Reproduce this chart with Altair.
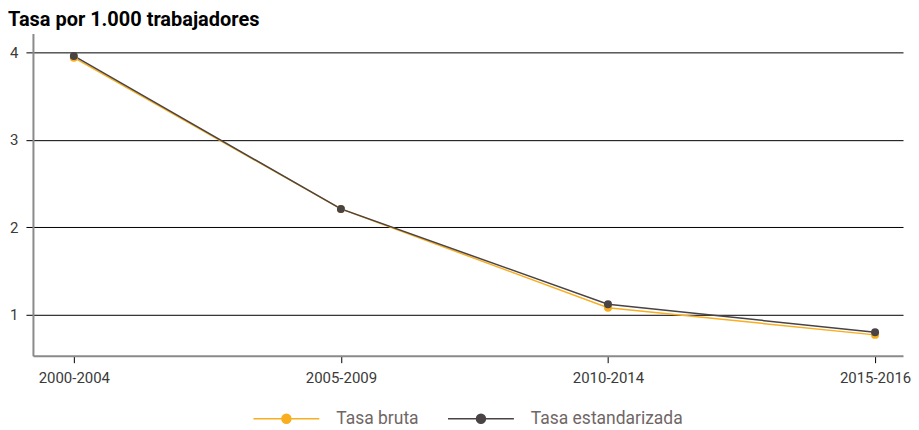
import altair as alt
import pandas as pd

periods = ["2000-2004", "2005-2009", "2010-2014", "2015-2016"]
series_names = ["Tasa bruta", "Tasa estandarizada"]
tasa_bruta = [3.94, 2.21, 1.08, 0.77]
tasa_estandarizada = [3.96, 2.21, 1.12, 0.80]
colors = ["#f8ae1e", "#4a4344"]

rows = []
for name, vals in zip(series_names, [tasa_bruta, tasa_estandarizada]):
    for p, v in zip(periods, vals):
        rows.append({"periodo": p, "serie": name, "valor": v})
df = pd.DataFrame(rows)

FONT = "Roboto"
r = 0.136
sym_path = f"M-1,0L1,0M-{r},0A{r},{r},0,1,0,{r},0A{r},{r},0,1,0,-{r},0Z"

legend = alt.Legend(
    title=None, orient="none", legendX=220, legendY=352, direction="horizontal",
    symbolType=sym_path, symbolSize=4356, symbolOpacity=1, symbolStrokeWidth=1.5,
    labelFont=FONT, labelFontSize=17.5, labelOffset=16, labelColor="#706666",
    columnPadding=26, padding=0,
)

x = alt.X("periodo:N", sort=periods,
          scale=alt.Scale(type="point", padding=0.1289, align=0.594),
          axis=alt.Axis(title=None, labelAngle=0, domainColor="#8a8a8a", domainWidth=2,
                        tickColor="black", tickSize=7, tickWidth=1, labelPadding=8,
                        labelFont=FONT, labelFontSize=15, labelColor="#3a3a3a", grid=False))
y = alt.Y("valor:Q", scale=alt.Scale(domain=[0.532, 4.217], nice=False, zero=False),
          axis=alt.Axis(title=None, values=[1, 2, 3, 4], format="d", domainColor="#8a8a8a",
                        domainWidth=2, tickColor="black", tickSize=7, tickWidth=1,
                        gridColor="black", gridWidth=1, grid=True, labelPadding=8,
                        labelFont=FONT, labelFontSize=15, labelColor="#3a3a3a",
                        minExtent=25, maxExtent=25))

lines = alt.Chart(df).mark_line(strokeWidth=1.5).encode(
    x=x, y=y,
    color=alt.Color("serie:N", scale=alt.Scale(domain=series_names, range=colors),
                    legend=legend),
    order=alt.Order("serie:N"),
)
points = alt.Chart(df).mark_point(filled=True, size=64, opacity=1).encode(
    x=x, y=y,
    fill=alt.Fill("serie:N", scale=alt.Scale(domain=series_names, range=colors),
                  legend=legend),
)

chart = (lines + points).properties(
    width=872, height=323,
    padding={"left": 0, "top": 2, "right": 0, "bottom": 0},
    title=alt.TitleParams("Tasa por 1.000 trabajadores", anchor="start", frame="bounds",
                          font=FONT, fontSize=20, fontWeight="bold", color="black", offset=3),
).configure_view(stroke=None)

chart.save("out.html", embed_options={"renderer": "svg", "actions": False})
